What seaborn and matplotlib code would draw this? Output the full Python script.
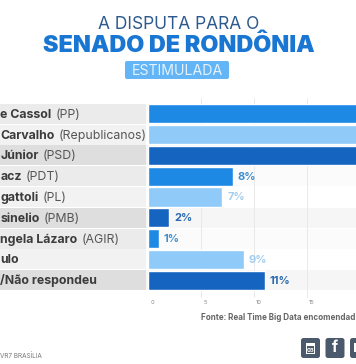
import numpy as np
import matplotlib
matplotlib.use('Agg')
import matplotlib.pyplot as plt
from matplotlib.patches import FancyBboxPatch
from matplotlib.transforms import ScaledTranslation
import pandas as pd
import seaborn as sns

# as tres primeiras barras saem da imagem, valores estimados
nomes = ['e Cassol', 'Carvalho', 'Júnior', 'acz', 'gattoli', 'sinelio', 'ngela Lázaro', 'ulo', '/Não respondeu']
partidos = ['(PP)', '(Republicanos)', '(PSD)', '(PDT)', '(PL)', '(PMB)', '(AGIR)', '', '']
valores = [22, 20, 20, 8, 7, 2, 1, 9, 11]
cores = ['#1e88e5', '#90caf9', '#1565c0'] * 3
cores_rotulo = ['#3f8fd0', '#a3cdee', '#2a6ab0'] * 3
fundo_nomes = ['#ebebeb', '#f2f2f2', '#dedede', '#ebebeb', '#f2f2f2', '#dedede', '#ebebeb', '#f2f2f2', '#dedede']
fundo_linhas = ['#fbfbfb', '#ffffff', '#f6f6f6'] * 3
ticks = [0, 5, 10, 15]

W, H = 356, 364
FONTE = 'Inter'

sns.set_theme(style='white')
plt.rcParams['font.family'] = [FONTE, 'DejaVu Sans']

dados = pd.DataFrame({'nome': nomes, 'valor': valores})

fig = plt.figure(figsize=(W / 100, H / 100), dpi=100, facecolor='white')
# eixo em pixels da imagem
topo, base = 103.5, 290.5
ax = fig.add_axes([148 / W, 1 - base / H, (W - 148) / W, (base - topo) / H])
sns.barplot(data=dados, x='valor', y='nome', hue='nome', palette=cores, legend=False,
            width=0.92, saturation=1, ax=ax)
ax.set_xlim(0, 19.6)
ax.set_ylim(8.5, -0.5)
ax.set_xlabel('')
ax.set_ylabel('')
ax.set_yticks([])
ax.set_xticks(ticks)
ax.set_xticklabels(ticks, fontsize=4.2, color='#8a8a8a')
ax.tick_params(axis='x', length=0, pad=6.5)
desloca = ScaledTranslation(4.5 / 100, 0, fig.dpi_scale_trans)
for rot in ax.get_xticklabels():
    rot.set_transform(rot.get_transform() + desloca)
sns.despine(ax=ax, left=True, bottom=True)
ax.set_axisbelow(True)
ax.patch.set_alpha(0)

# fundo das linhas e nomes
tela = fig.add_axes([0, 0, 1, 1], zorder=-1)
tela.set_xlim(0, W)
tela.set_ylim(H, 0)
tela.axis('off')
passo = (base - topo) / 9
for i in range(9):
    y0 = topo + i * passo + 0.4
    tela.fill_between([0, 146], y0, y0 + passo - 0.8, color=fundo_nomes[i], lw=0)
    tela.fill_between([146, W], y0, y0 + passo - 0.8, color=fundo_linhas[i], lw=0)
for t in ticks[1:]:
    x = 148 + t * (W - 148) / 19.6
    tela.plot([x, x], [98, 297], color='#e9e9e9', lw=0.7)

frente = fig.add_axes([0, 0, 1, 1], zorder=5)
frente.set_xlim(0, W)
frente.set_ylim(H, 0)
frente.axis('off')

rend = fig.canvas.get_renderer()
for i, (n, p) in enumerate(zip(nomes, partidos)):
    y = topo + (i + 0.5) * passo + 4
    t = frente.text(0.5, y, n, fontsize=8.9, fontweight='bold', color='#3c3c3c', va='baseline', ha='left')
    if p:
        fim = t.get_window_extent(rend).x1
        frente.text(fim + 3.5, y, p, fontsize=8.9, color='#555555', va='baseline', ha='left')

# rotulos das barras menores
for i in range(3, 9):
    x = 148 + valores[i] * (W - 148) / 19.6
    y = topo + (i + 0.5) * passo + 3.5
    frente.text(x + 5, y, f'{valores[i]}%', fontsize=8, fontweight='bold', color=cores_rotulo[i], va='baseline', ha='left')

# titulo
frente.text(179, 29, 'A DISPUTA PARA O', fontsize=12.5, color='#2d5a8e', ha='center', va='baseline')
frente.text(179, 51.5, 'SENADO DE RONDÔNIA', fontsize=16.8, fontweight='black', color='#1976d2', ha='center', va='baseline')
frente.add_patch(FancyBboxPatch((125, 61), 104, 18, boxstyle='round,pad=0,rounding_size=2', fc='#64b5f6', ec='none'))
frente.text(177, 75, 'ESTIMULADA', fontsize=10.2, color='#e3f2fd', ha='center', va='baseline')

# rodape
frente.text(201, 318, 'Fonte: Real Time Big Data encomendad', fontsize=5.8, fontweight='bold', color='#666666', va='center')
frente.text(0, 356, 'VR7 BRASÍLIA', fontsize=4.6, color='#777777', va='center')
for x0 in [301, 325.5, 350]:
    frente.add_patch(FancyBboxPatch((x0, 338), 19, 20, boxstyle='round,pad=0,rounding_size=2.5', fc='#4a5a6c', ec='none'))
# icones
frente.fill_between([306, 315], 343, 354, color='white', lw=0)
frente.fill_between([307, 314], 346, 353, color='#4a5a6c', lw=0)
frente.text(310.5, 350, '03', fontsize=4.2, fontweight='bold', color='white', ha='center', va='center')
frente.text(335, 348, 'f', fontsize=11, fontweight='bold', color='white', ha='center', va='center')
frente.fill_between([354, W], 343, 352, color='white', lw=0)

fig.savefig('out.png', dpi=100)
